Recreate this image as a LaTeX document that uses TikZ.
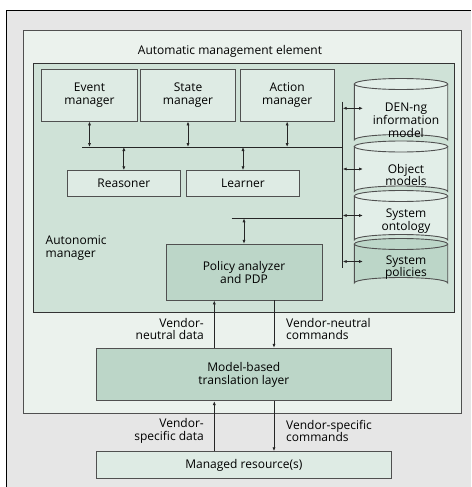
\documentclass[tikz,border=0pt]{standalone}
\usepackage{fontspec}
\setmainfont{Open Sans}
\usetikzlibrary{arrows.meta}
\definecolor{bgray}{HTML}{E6E6E6}
\definecolor{elemfill}{HTML}{EBF2ED}
\definecolor{autofill}{HTML}{CFE2D7}
\definecolor{lightbox}{HTML}{DEEBE4}
\definecolor{darkbox}{HTML}{BCD6C8}
\definecolor{cylfill}{HTML}{E2EEE8}
\definecolor{edge}{HTML}{505050}
\tikzset{
  box/.style={draw=edge, line width=0.9pt, fill=lightbox, align=center, inner sep=0pt, font=\fontsize{12}{12.8}\selectfont},
  dbox/.style={box, fill=darkbox},
  lbl/.style={font=\fontsize{12}{12.8}\selectfont, inner sep=0pt},
  conn/.style={line width=0.8pt, draw=black!85},
  darr/.style={conn, {Latex[length=4pt,width=3.2pt]}-{Latex[length=4pt,width=3.2pt]}},
  arr/.style={conn, -{Latex[length=4pt,width=3.2pt]}},
  cyl/.style={draw=edge, line width=0.9pt},
}
\newcommand{\cylseg}[4]{% top y, bottom y, fill, name
  \fill[#3] (354.3,#1) -- (354.3,#2) arc[start angle=180,end angle=360,x radius=46.7,y radius=5.5] -- (447.7,#1) -- cycle;
  \fill[#3] (401,#1) ellipse[x radius=46.7,y radius=5.5];
  \draw[cyl] (354.3,#1) -- (354.3,#2) arc[start angle=180,end angle=360,x radius=46.7,y radius=5.5] -- (447.7,#1);
  \draw[cyl] (401,#1) ellipse[x radius=46.7,y radius=5.5];
  \coordinate (#4) at (354.3,#1);
}
\begin{document}
\begin{tikzpicture}[x=1pt,y=-1pt]
\useasboundingbox (0,0) rectangle (471,487);
% outer frame
\fill[bgray] (6.5,11) rectangle (471,487);
\draw[line width=1pt] (6.5,487) -- (6.5,11) -- (471,11);
% element box
\node[draw=edge, line width=1pt, fill=elemfill, minimum width=438pt, minimum height=382.6pt, inner sep=0pt] (elem) at (242.3,222) {};
\node[lbl] (elemlbl) at (230,51) {Automatic management element};
% autonomic manager
\node[draw=black!80, line width=1pt, fill=autofill, minimum width=421pt, minimum height=248.7pt, inner sep=0pt] (auto) at (243.8,188.35) {};
\node[lbl, align=left, anchor=west] (autolbl) at (45.5,248) {Autonomic\\manager};
% managers
\node[box, minimum width=95.6pt, minimum height=52pt] (event) at (89.5,95) {Event\\manager};
\node[box, minimum width=94.6pt, minimum height=52pt] (state) at (188,95) {State\\manager};
\node[box, minimum width=94.3pt, minimum height=52pt] (action) at (287.15,95) {Action\\manager};
\node[box, minimum width=112.3pt, minimum height=26pt] (reasoner) at (123.85,183.7) {Reasoner};
\node[box, minimum width=112.6pt, minimum height=26pt] (learner) at (243,183.7) {Learner};
\node[dbox, minimum width=156pt, minimum height=55.7pt] (policy) at (244,272.15) {Policy analyzer\\and PDP};
\node[dbox, minimum width=294.3pt, minimum height=52.4pt] (trans) at (243.85,374.5) {Model-based\\translation layer};
\node[box, minimum width=294.3pt, minimum height=26.6pt] (managed) at (243.85,465) {Managed resource(s)};
% cylinder
\cylseg{244}{283}{darkbox}{cpol}
\cylseg{196}{240}{cylfill}{cont}
\cylseg{146.5}{191.5}{cylfill}{cobj}
\cylseg{84}{140}{cylfill}{cden}
\node[lbl, align=center] (tden) at (406,120.5) {DEN-ng\\information\\model};
\node[lbl, align=center] (tobj) at (406,175) {Object\\models};
\node[lbl, align=center] (tont) at (406,221) {System\\ontology};
\node[lbl, align=center] (tpol) at (406,267.5) {System\\policies};
% buses
\coordinate (busL) at (82.3,147);
\coordinate (busR) at (342.7,147);
\coordinate (vtop) at (342.7,101.7);
\coordinate (vbot) at (342.7,268.3);
\coordinate (pbL) at (231.7,218.3);
\coordinate (pbR) at (342.7,218.3);
\draw[conn] (busL) -- (busR);
\draw[conn] (vtop) -- (vbot);
\draw[conn] (pbL) -- (pbR);
\draw[darr] (event.south) -- (event.south |- busL);
\draw[darr] (state.south) -- (state.south |- busL);
\draw[darr] (action.south) -- (action.south |- busL);
\draw[darr] (reasoner.north |- busL) -- (reasoner.north);
\draw[darr] (learner.north |- busL) -- (learner.north);
\draw[darr] (policy.north |- pbL) -- (policy.north);
% cylinder arrows
\coordinate (aden) at (363,108.3);
\coordinate (aobj) at (363,169);
\coordinate (aont) at (363,215.5);
\coordinate (apol) at (363,261.5);
\draw[darr] (vtop |- aden) -- (aden);
\draw[darr] (vtop |- aobj) -- (aobj);
\draw[darr] (vtop |- aont) -- (aont);
\draw[darr] (vtop |- apol) -- (apol);
% vendor arrows
\coordinate (xl) at (214.3,0);
\coordinate (xr) at (274,0);
\draw[arr] (trans.north -| xl) -- (policy.south -| xl);
\draw[arr] (policy.south -| xr) -- (trans.north -| xr);
\draw[arr] (managed.north -| xl) -- (trans.south -| xl);
\draw[arr] (trans.south -| xr) -- (managed.north -| xr);
\node[lbl, align=right, anchor=east] (vnd) at (204,329) {Vendor-\\neutral data};
\node[lbl, align=left, anchor=west] (vnc) at (286,329) {Vendor-neutral\\commands};
\node[lbl, align=right, anchor=east] (vsd) at (204,431) {Vendor-\\specific data};
\node[lbl, align=left, anchor=west] (vsc) at (286,431) {Vendor-specific\\commands};
\end{tikzpicture}
\end{document}
